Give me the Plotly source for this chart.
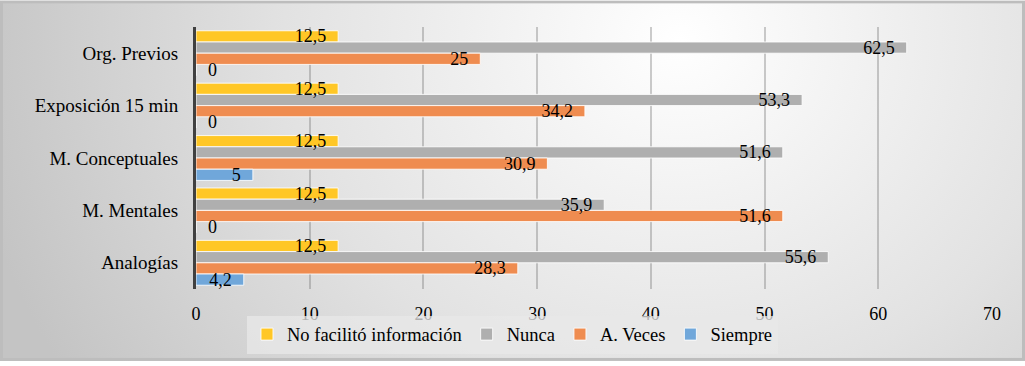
import base64
import plotly.graph_objects as go

categories = ["Org. Previos", "Exposición 15 min", "M. Conceptuales", "M. Mentales", "Analogías"]
series_names = ["No facilitó información", "Nunca", "A. Veces", "Siempre"]
no_facilito = [12.5, 12.5, 12.5, 12.5, 12.5]
nunca = [62.5, 53.3, 51.6, 35.9, 55.6]
a_veces = [25, 34.2, 30.9, 51.6, 28.3]
siempre = [0, 0, 5, 0, 4.2]
x_ticks = [0, 10, 20, 30, 40, 50, 60, 70]

colors = ["#FFC726", "#AFAFAF", "#EF8C50", "#70A7DA"]
series_values = [no_facilito, nunca, a_veces, siempre]

FONT = "Liberation Serif"
NB = "\u00a0"

W, H = 1025, 366
L, R, T, B = 196, 33, 27, 73
pw, ph = W - L - R, H - T - B

BAR_W = 0.214
OFFSETS = [-2 * BAR_W + i * BAR_W for i in range(4)]

svg = f'''<svg xmlns="http://www.w3.org/2000/svg" width="{W}" height="{H}" viewBox="0 0 {W} {H}">
<defs><radialGradient id="g" gradientUnits="userSpaceOnUse" cx="680" cy="40" r="720" gradientTransform="translate(680 40) scale(1 0.9) translate(-680 -40)">
<stop offset="0" stop-color="#ffffff"/><stop offset="0.55" stop-color="#e2e2e2"/><stop offset="1" stop-color="#c4c4c4"/></radialGradient></defs>
<rect x="0" y="0" width="{W}" height="{H}" fill="url(#g)"/>
<rect x="1.5" y="1.5" width="{W-3}" height="{H-3}" fill="none" stroke="#bdbdbd" stroke-width="3"/>
</svg>'''
src = "data:image/svg+xml;base64," + base64.b64encode(svg.encode()).decode()

def fmt(v):
    s = f"{v:g}".replace(".", ",")
    return NB * 2 + s if v == 0 else s + NB * 2

fig = go.Figure()
# coloured bars
for name, vals, col, off in zip(series_names, series_values, colors, OFFSETS):
    fig.add_trace(go.Bar(
        y=categories, x=vals, name=name, orientation="h",
        width=BAR_W, offset=off,
        marker=dict(color=col, line=dict(color="rgba(255,255,255,0.85)", width=1)),
        hoverinfo="x+name",
    ))
# labels drawn above every bar
for name, vals, off in zip(series_names, series_values, OFFSETS):
    fig.add_trace(go.Bar(
        y=categories, x=vals, name=name + " label", orientation="h",
        width=BAR_W, offset=off, showlegend=False, hoverinfo="skip",
        marker=dict(color="rgba(0,0,0,0)", line=dict(width=0)),
        text=[fmt(v) for v in vals],
        textposition=["outside" if v == 0 else "inside" for v in vals],
        insidetextanchor="end", textangle=0,
        textfont=dict(family=FONT, size=18, color="#000000"),
        insidetextfont=dict(family=FONT, size=18, color="#000000"),
        outsidetextfont=dict(family=FONT, size=18, color="#000000"),
        cliponaxis=False, constraintext="none",
    ))

fig.update_layout(
    template="none",
    width=W, height=H,
    margin=dict(l=L, r=R, t=T, b=B, pad=0),
    barmode="overlay",
    paper_bgcolor="rgba(0,0,0,0)", plot_bgcolor="rgba(0,0,0,0)",
    font=dict(family=FONT, size=18, color="#000000"),
    showlegend=True,
    legend=dict(orientation="h", x=0.3976, xanchor="center", y=-27 / ph, yanchor="top",
                bgcolor="rgba(232,232,232,0.75)", font=dict(size=18.5, family=FONT),
                itemwidth=30, traceorder="normal"),
    images=[dict(source=src, xref="paper", yref="paper", x=-L / pw, y=1 + T / ph,
                 sizex=W / pw, sizey=H / ph, sizing="stretch", xanchor="left", yanchor="top",
                 layer="below")],
)
fig.update_xaxes(range=[0, 70], tickvals=x_ticks, ticktext=[str(t) for t in x_ticks],
                 showgrid=True, gridcolor="rgba(110,110,110,0.35)", gridwidth=2,
                 zeroline=False, showline=False, ticks="", ticklabelstandoff=12,
                 automargin=False, tickfont=dict(size=18, family=FONT))
fig.update_yaxes(autorange="reversed", showline=True, linecolor="#404040", linewidth=3,
                 showgrid=False, ticks="", ticklabelstandoff=11, automargin=False,
                 tickfont=dict(size=19, family=FONT))

fig.write_html("out.html", config={"displayModeBar": False},
               post_script="document.body.style.margin='0';document.body.style.padding='0';")
